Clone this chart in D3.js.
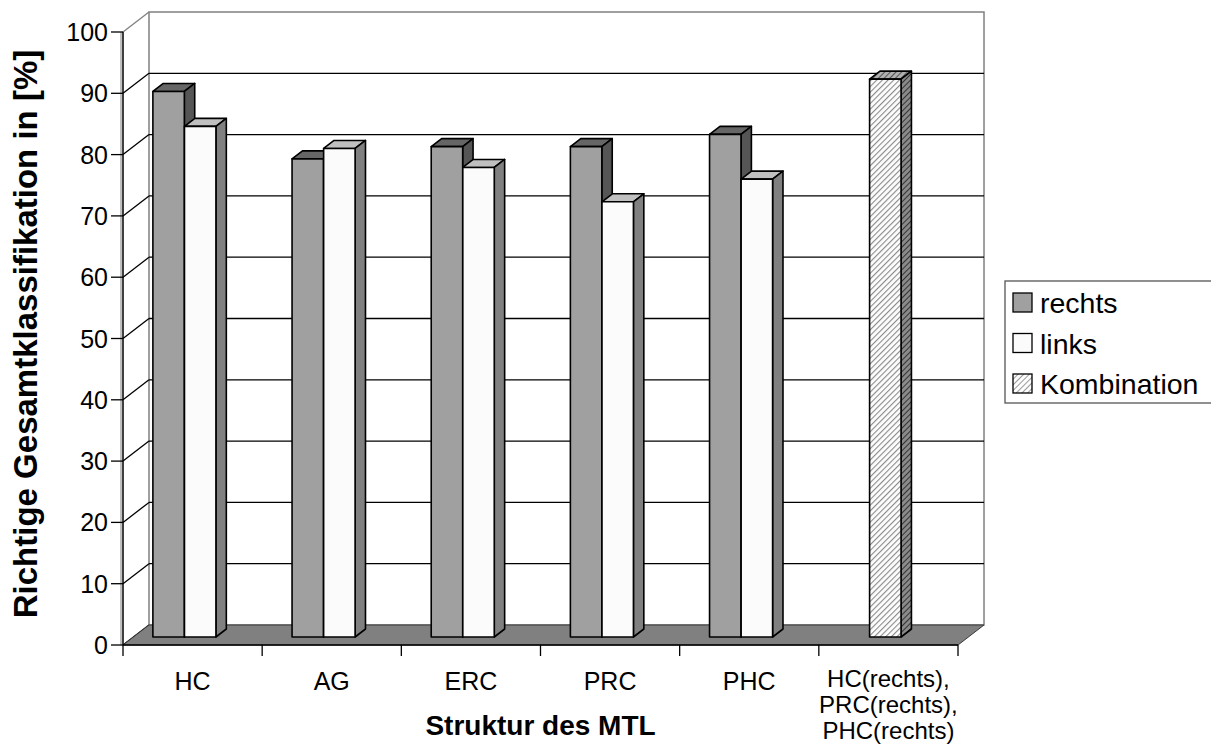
<!DOCTYPE html>
<html>
<head>
<meta charset="utf-8">
<script src="https://cdn.jsdelivr.net/npm/d3@7"></script>
<style>
  body { margin: 0; background: #fff; }
  text { font-family: "Liberation Sans", Arial, sans-serif; }
</style>
</head>
<body>
<div id="chart"></div>
<script>
const width = 1211;
const height = 744;

// data
const categories = ["HC", "AG", "ERC", "PRC", "PHC", "KOMB"];
const categoryLabels = [["HC"], ["AG"], ["ERC"], ["PRC"], ["PHC"], ["HC(rechts),", "PRC(rechts),", "PHC(rechts)"]];
const rechts = [89, 78, 80, 80, 82, null];
const links = [83.3, 79.7, 76.6, 71, 74.7, null];
const kombination = [null, null, null, null, null, 91];
const yTicks = [0, 10, 20, 30, 40, 50, 60, 70, 80, 90, 100];
const legendNames = ["rechts", "links", "Kombination"];

const svg = d3.select("#chart")
    .append("svg")
    .attr("width", width)
    .attr("height", height);

// front plane of the plot, and the 3d depth offset
const pLeft = 123, pRight = 958, pBottom = 645, pTop = 32;
const DX = 26, DY = -20;

const y = d3.scaleLinear().domain([0, 100]).range([pBottom, pTop]);
const x = d3.scaleBand().domain(categories).range([pLeft, pRight]).padding(0);
const bw = x.bandwidth();

const proj = (px, py, z) => [px + z * DX, py + z * DY];

// hatch patterns for the "Kombination" series
const defs = svg.append("defs");
function hatch(id, bg, fg, sw) {
    const p = defs.append("pattern")
        .attr("id", id)
        .attr("patternUnits", "userSpaceOnUse")
        .attr("width", 4).attr("height", 4)
        .attr("patternTransform", "rotate(45)");
    p.append("rect").attr("width", 4).attr("height", 4).attr("fill", bg);
    p.append("line").attr("x1", 0).attr("y1", 0).attr("x2", 0).attr("y2", 4)
        .attr("stroke", fg).attr("stroke-width", sw);
}
hatch("hatchFront", "#fdfdfd", "#8a8a8a", 2.2);
hatch("hatchTop", "#b0b0b0", "#555", 2);
hatch("hatchSide", "#8a8a8a", "#333", 2);
hatch("hatchLegend", "#fdfdfd", "#9a9a9a", 2);

const poly = pts => pts.map(p => p.join(",")).join(" ");

// back wall
const [bx0, by0] = proj(pLeft, pBottom, 1);
const [bx1, by1] = proj(pRight, pTop, 1);
svg.append("rect")
    .attr("x", bx0).attr("y", by1)
    .attr("width", bx1 - bx0).attr("height", by0 - by1)
    .attr("fill", "#fff")
    .attr("stroke", "#808080").attr("stroke-width", 1.5);

// gridlines on back wall and left wall
yTicks.forEach(v => {
    const a = [pLeft, y(v)];
    const b = proj(pLeft, y(v), 1);
    const c = proj(pRight, y(v), 1);
    const col = v === 100 ? "#808080" : "#000";
    if (v > 0 && v < 100) {
        svg.append("line")
            .attr("x1", b[0]).attr("y1", b[1]).attr("x2", c[0]).attr("y2", c[1])
            .attr("stroke", col).attr("stroke-width", 1.3);
    }
    svg.append("line")
        .attr("x1", a[0]).attr("y1", a[1]).attr("x2", b[0]).attr("y2", b[1])
        .attr("stroke", col).attr("stroke-width", 1.3);
});

// floor
svg.append("polygon")
    .attr("points", poly([[pLeft, pBottom], [pRight, pBottom], proj(pRight, pBottom, 1), proj(pLeft, pBottom, 1)]))
    .attr("fill", "#808080")
    .attr("stroke", "#3a3a3a").attr("stroke-width", 1);

// bars
const z0 = 0.4, z1 = 0.8;
function bar(x0, w, v, front, topFill, side) {
    const yt = y(v), yb = y(0);
    const f = [proj(x0, yt, z0), proj(x0 + w, yt, z0), proj(x0 + w, yb, z0), proj(x0, yb, z0)];
    const t = [proj(x0, yt, z0), proj(x0 + w, yt, z0), proj(x0 + w, yt, z1), proj(x0, yt, z1)];
    const s = [proj(x0 + w, yt, z0), proj(x0 + w, yt, z1), proj(x0 + w, yb, z1), proj(x0 + w, yb, z0)];
    const g = svg.append("g")
        .attr("stroke", "#000").attr("stroke-width", 1.6).attr("stroke-linejoin", "round");
    g.append("polygon").attr("points", poly(t)).attr("fill", topFill);
    g.append("polygon").attr("points", poly(s)).attr("fill", side);
    g.append("polygon").attr("points", poly(f)).attr("fill", front);
}

const barW = bw * 0.226;
categories.forEach((c, i) => {
    if (rechts[i] != null) bar(x(c) + bw * 0.14, barW, rechts[i], "#a0a0a0", "#666", "#555");
    if (links[i] != null) bar(x(c) + bw * 0.367, barW, links[i], "#fbfbfb", "#c0c0c0", "#808080");
    if (kombination[i] != null) bar(x(c) + bw * 0.29, barW, kombination[i], "url(#hatchFront)", "url(#hatchTop)", "url(#hatchSide)");
});

// y axis (gray + black double line as in the original)
svg.append("line")
    .attr("x1", pLeft - 2).attr("y1", pTop).attr("x2", pLeft - 2).attr("y2", pBottom)
    .attr("stroke", "#808080").attr("stroke-width", 1);
svg.append("line")
    .attr("x1", pLeft).attr("y1", pTop).attr("x2", pLeft).attr("y2", pBottom)
    .attr("stroke", "#000").attr("stroke-width", 1.5);
yTicks.forEach(v => {
    svg.append("line")
        .attr("x1", pLeft - 12).attr("x2", pLeft).attr("y1", y(v)).attr("y2", y(v))
        .attr("stroke", "#000").attr("stroke-width", 1.3);
    svg.append("text")
        .attr("x", pLeft - 15).attr("y", y(v))
        .attr("dy", "0.36em")
        .attr("text-anchor", "end")
        .attr("font-size", 25)
        .text(v);
});

// x axis
svg.append("line")
    .attr("x1", pLeft).attr("y1", pBottom).attr("x2", pRight).attr("y2", pBottom)
    .attr("stroke", "#000").attr("stroke-width", 1.5);
[...categories.map(c => x(c)), pRight].forEach(px => {
    svg.append("line")
        .attr("x1", px).attr("x2", px).attr("y1", pBottom).attr("y2", pBottom + 11)
        .attr("stroke", "#000").attr("stroke-width", 1.3);
});
categories.forEach((c, i) => {
    const lines = categoryLabels[i];
    lines.forEach((line, k) => {
        svg.append("text")
            .attr("x", x(c) + bw / 2)
            .attr("y", (lines.length > 1 ? 687 : 690) + k * 26)
            .attr("text-anchor", "middle")
            .attr("font-size", lines.length > 1 ? 24 : 25)
            .text(line);
    });
});

// axis titles
svg.append("text")
    .attr("x", (pLeft + pRight) / 2).attr("y", 735)
    .attr("text-anchor", "middle")
    .attr("font-size", 28).attr("font-weight", "bold")
    .text("Struktur des MTL");

svg.append("text")
    .attr("transform", "translate(37," + 334 + ") rotate(-90)")
    .attr("text-anchor", "middle")
    .attr("font-size", 33).attr("font-weight", "bold")
    .text("Richtige Gesamtklassifikation in [%]");

// legend
const legend = svg.append("g");
legend.append("rect")
    .attr("x", 1005).attr("y", 281).attr("width", 220).attr("height", 122)
    .attr("fill", "#fff").attr("stroke", "#555").attr("stroke-width", 1.3);
const legendFills = ["#a0a0a0", "#fbfbfb", "url(#hatchLegend)"];
legendNames.forEach((name, i) => {
    const ly = 293 + i * 40.5;
    legend.append("rect")
        .attr("x", 1013).attr("y", ly).attr("width", 19).attr("height", 19)
        .attr("fill", legendFills[i]).attr("stroke", "#000").attr("stroke-width", 1.3);
    legend.append("text")
        .attr("x", 1040).attr("y", ly + 10)
        .attr("dy", "0.36em")
        .attr("font-size", 28.5)
        .text(name);
});
</script>
</body>
</html>
